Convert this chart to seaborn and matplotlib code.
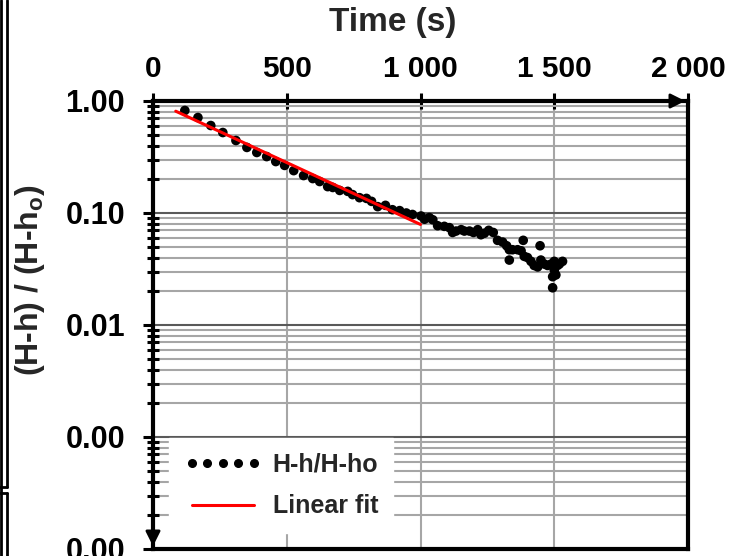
import seaborn as sns
import matplotlib.pyplot as plt
import matplotlib.ticker as mticker
from matplotlib.lines import Line2D

# Measured recovery data (time in s, normalised head ratio)
time_s = [119, 168, 216, 261, 310, 351, 388, 425, 459, 492, 526, 563, 597, 623, 653,
          672, 698, 728, 746, 772, 798, 817, 840, 869, 895, 922, 947, 970, 1002, 1015,
          1033, 1046, 1064, 1089, 1108, 1120, 1133, 1152, 1164, 1183, 1198, 1214, 1226,
          1239, 1255, 1272, 1288, 1307, 1322, 1332, 1332, 1344, 1363, 1376, 1384, 1388,
          1400, 1413, 1425, 1438, 1447, 1450, 1463, 1475, 1488, 1494, 1494, 1500, 1500,
          1506, 1512, 1519, 1531]
ratio = [0.823, 0.712, 0.604, 0.523, 0.444, 0.385, 0.347, 0.319, 0.288, 0.266, 0.239,
         0.216, 0.203, 0.191, 0.172, 0.169, 0.159, 0.156, 0.146, 0.137, 0.135, 0.127,
         0.114, 0.117, 0.107, 0.105, 0.100, 0.097, 0.094, 0.088, 0.091, 0.087, 0.077,
         0.076, 0.074, 0.067, 0.069, 0.071, 0.069, 0.069, 0.067, 0.071, 0.064, 0.066,
         0.070, 0.067, 0.057, 0.055, 0.051, 0.047, 0.038, 0.047, 0.047, 0.046, 0.057,
         0.041, 0.040, 0.037, 0.034, 0.033, 0.051, 0.038, 0.035, 0.034, 0.035, 0.027,
         0.0215, 0.037, 0.031, 0.028, 0.034, 0.035, 0.037]

# Linear fit (straight on the log axis) end points
fit_time = [85, 1000]
fit_ratio = [0.811, 0.079]

x_ticks = [0, 500, 1000, 1500, 2000]
y_ticks = [1e-4, 1e-3, 1e-2, 1e-1, 1]

sns.set_style("white")
plt.rcParams["font.family"] = ["Liberation Sans", "DejaVu Sans"]
plt.rcParams["font.weight"] = "bold"
plt.rcParams["mathtext.fontset"] = "custom"
plt.rcParams["mathtext.bf"] = "Liberation Sans:bold"
plt.rcParams["mathtext.rm"] = "Liberation Sans:bold"
plt.rcParams["mathtext.default"] = "bf"

fig = plt.figure(figsize=(7.47, 5.56), dpi=100)
ax = fig.add_axes([153 / 747, 7 / 556, 535 / 747, 448 / 556])
ax.set_yscale("log")

sns.scatterplot(x=time_s, y=ratio, ax=ax, color="black", s=48, edgecolor="none",
                legend=False, zorder=3)
sns.lineplot(x=fit_time, y=fit_ratio, ax=ax, color="red", lw=2.2, zorder=4)

ax.set_xlim(0, 2000)
ax.set_ylim(1e-4, 1)
ax.xaxis.tick_top()
ax.xaxis.set_label_position("top")
ax.set_xticks(x_ticks)
ax.xaxis.set_major_formatter(mticker.FuncFormatter(lambda v, p: f"{v:,.0f}".replace(",", " ")))
ax.yaxis.set_major_locator(mticker.FixedLocator(y_ticks))
ax.yaxis.set_minor_locator(mticker.LogLocator(base=10, subs=range(2, 10), numticks=20))
ax.yaxis.set_major_formatter(mticker.FuncFormatter(lambda v, p: f"{v:.2f}"))
ax.yaxis.set_minor_formatter(mticker.NullFormatter())

ax.tick_params(axis="x", which="major", direction="inout", length=11.5, width=2.2,
               labelsize=21.5, pad=7, colors="black", top=True, bottom=False)
ax.tick_params(axis="y", which="major", direction="out", length=7, width=2.2,
               labelsize=22, pad=13, colors="black", left=True)
ax.tick_params(axis="y", which="minor", direction="inout", length=8.5, width=2.2,
               colors="black", left=True)

ax.grid(which="minor", axis="y", color="#a6a6a6", lw=1.5)
ax.grid(which="major", axis="y", color="#595959", lw=1.5)
ax.grid(which="major", axis="x", color="#a6a6a6", lw=1.5)
ax.set_axisbelow(True)

for side in ["top", "bottom", "left", "right"]:
    ax.spines[side].set_visible(True)
    ax.spines[side].set_color("black")
    ax.spines[side].set_linewidth(3)

# arrows at axis ends
ax.annotate("", xy=(1.0, 1.0), xytext=(0.96, 1.0), xycoords="axes fraction",
            arrowprops=dict(arrowstyle="-|>", color="black", lw=2, mutation_scale=22))
ax.annotate("", xy=(0.0, 0.0), xytext=(0.0, 0.05), xycoords="axes fraction",
            arrowprops=dict(arrowstyle="-|>", color="black", lw=2, mutation_scale=22))

ax.set_xlabel("Time (s)", fontsize=24, fontweight="bold")
ax.xaxis.set_label_coords((393 - 153) / 535, (549 - 22) / 448)
ax.xaxis.label.set_va("center")
ax.set_ylabel("(H-h) / (H-h$_o$)", fontsize=23, fontweight="bold")
ax.yaxis.set_label_coords((30 - 153) / 535, (549 - 280) / 448)
ax.yaxis.label.set_va("center")

handles = [Line2D([], [], marker="o", ls="none", color="black", markersize=5.5),
           Line2D([], [], color="red", lw=2.2)]
leg = ax.legend(handles, ["H-h/H-ho", "Linear fit"], loc="lower left",
                bbox_to_anchor=(0.03, 0.035), borderaxespad=0, numpoints=5,
                fontsize=18, handlelength=3.1, handletextpad=0.45, labelspacing=0.7,
                frameon=True, facecolor="white", edgecolor="white", framealpha=1,
                fancybox=False, borderpad=0.6)
leg.set_zorder(5)

# page frame remnants on the left edge
for seg in [([1.5, 1.5], [0, 556]), ([7, 7], [0, 487]), ([7, 7], [493, 556]),
            ([0, 7], [487, 487]), ([0, 7], [493, 493])]:
    fig.add_artist(Line2D([v / 747 for v in seg[0]], [1 - v / 556 for v in seg[1]],
                          transform=fig.transFigure, color="black", lw=2))

plt.savefig("out.png", dpi=100)
plt.close()
